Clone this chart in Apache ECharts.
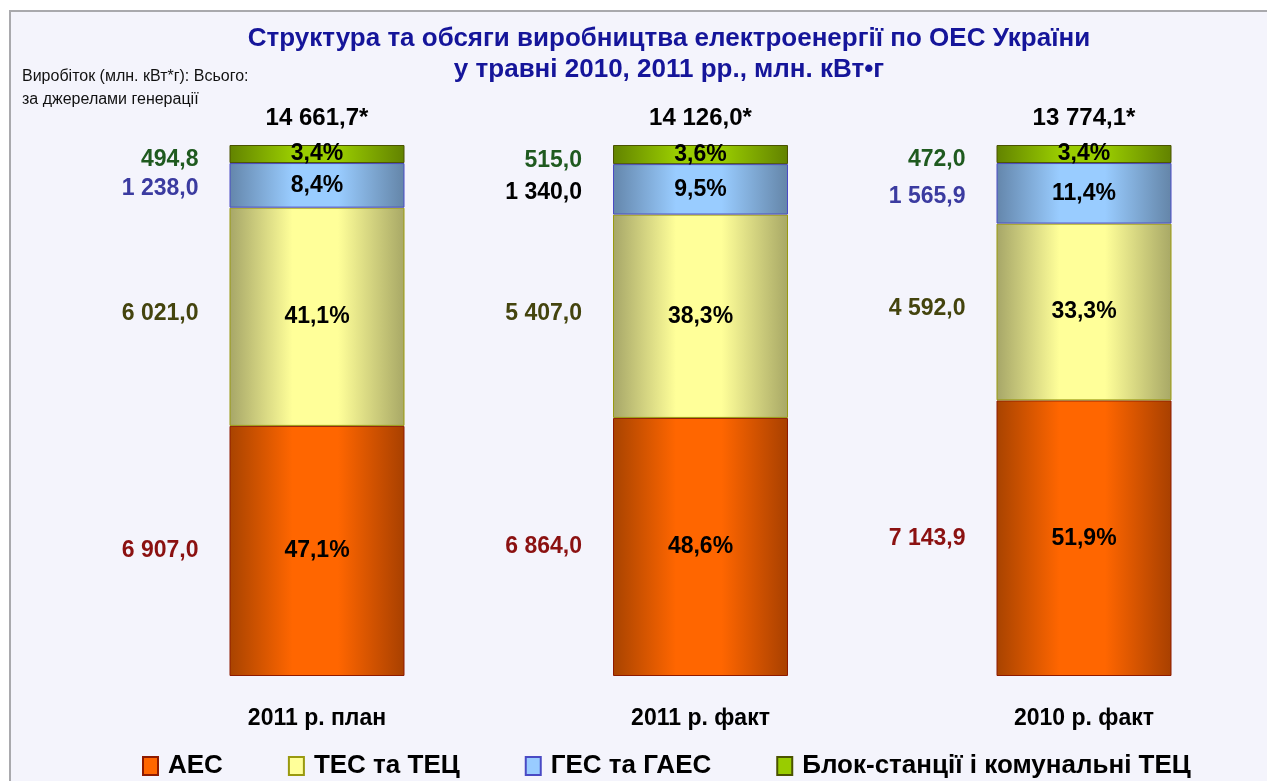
<!DOCTYPE html>
<html>
<head>
<meta charset="utf-8">
<script src="https://cdn.jsdelivr.net/npm/echarts@6/dist/echarts.min.js"></script>
<style>
  body { margin: 0; background: #fff; }
  #frame {
    position: absolute; left: 9px; top: 10px; width: 1270px; height: 780px;
    border: 2px solid #a9a9ad; background: #f4f4fc;
  }
  #chart { position: absolute; left: 0; top: 0; width: 1267px; height: 781px; }
</style>
</head>
<body>
<div id="frame"></div>
<div id="chart"></div>
<script>
  var categories = ['2011 р. план', '2011 р. факт', '2010 р. факт']
  var seriesNames = ['АЕС', 'ТЕС та ТЕЦ', 'ГЕС та ГАЕС', 'Блок-станції і комунальні ТЕЦ']

  // млн. кВт*г
  var aesValues = [6907.0, 6864.0, 7143.9]
  var tesValues = [6021.0, 5407.0, 4592.0]
  var gesValues = [1238.0, 1340.0, 1565.9]
  var blockValues = [494.8, 515.0, 472.0]
  var totals = [14661.7, 14126.0, 13774.1]

  // частка, %
  var aesPct = [47.1, 48.6, 51.9]
  var tesPct = [41.1, 38.3, 33.3]
  var gesPct = [8.4, 9.5, 11.4]
  var blockPct = [3.4, 3.6, 3.4]

  var font = '"Liberation Sans", Arial, sans-serif'

  function fmt(v) {
    var s = v.toFixed(1).split('.')
    var int = s[0].replace(/\B(?=(\d{3})+(?!\d))/g, ' ')
    return int + ',' + s[1]
  }

  function grad(dark, light, dark2) {
    return {
      type: 'linear', x: 0, y: 0, x2: 1, y2: 0,
      colorStops: [
        { offset: 0, color: dark },
        { offset: 0.36, color: light },
        { offset: 0.62, color: light },
        { offset: 1, color: dark2 }
      ]
    }
  }

  var styles = [
    { fill: grad('#a84300', '#ff6600', '#a84000'), border: '#8e1a00', flat: '#ff6600', text: '#8b1111', dy: 0 },
    { fill: grad('#a6a668', '#ffff99', '#a8a866'), border: '#99990f', flat: '#ffff99', text: '#44440e', dy: -3 },
    { fill: grad('#6486ab', '#99ccff', '#6485a8'), border: '#4a4ac4', flat: '#99ccff', text: '#3b3ba0', dy: 3 },
    { fill: grad('#628300', '#99cc00', '#628200'), border: '#4a5200', flat: '#99cc00', text: '#1f5a1f', dy: 6 }
  ]
  var pctData = [aesPct, tesPct, gesPct, blockPct]
  var absData = [aesValues, tesValues, gesValues, blockValues]

  var series = []
  // сегменти з відсотками
  seriesNames.forEach(function (name, i) {
    series.push({
      name: name,
      type: 'bar',
      stack: 'pct',
      barWidth: 175,
      barGap: '-100%',
      clip: false,
      data: pctData[i],
      itemStyle: { color: styles[i].fill, borderColor: styles[i].border, borderWidth: 1 },
      label: {
        show: true,
        position: 'inside',
        color: '#000',
        fontFamily: font,
        fontWeight: 'bold',
        fontSize: 23,
        formatter: function (p) { return p.value.toFixed(1).replace('.', ',') + '%' }
      }
    })
  })
  // абсолютні значення зліва від стовпчиків
  seriesNames.forEach(function (name, i) {
    series.push({
      name: name + ' ',
      type: 'bar',
      stack: 'abs',
      barWidth: 175,
      barGap: '-100%',
      clip: false,
      silent: true,
      data: pctData[i].map(function (v, j) {
        var item = { value: v }
        if (i === 2 && j === 1) item.label = { color: '#000' }
        return item
      }),
      itemStyle: { color: 'rgba(0,0,0,0)' },
      label: {
        show: true,
        position: 'left',
        distance: 31,
        offset: [0, styles[i].dy],
        color: styles[i].text,
        fontFamily: font,
        fontWeight: 'bold',
        fontSize: 23,
        formatter: function (p) { return fmt(absData[i][p.dataIndex]) }
      }
    })
  })
  // всього
  series.push({
    name: 'total',
    type: 'bar',
    stack: 'tot',
    barWidth: 175,
    barGap: '-100%',
    clip: false,
    silent: true,
    data: totals.map(function () { return 100 }),
    itemStyle: { color: 'rgba(0,0,0,0)' },
    label: {
      show: true,
      position: 'top',
      distance: 15,
      color: '#000',
      fontFamily: font,
      fontWeight: 'bold',
      fontSize: 24,
      formatter: function (p) { return fmt(totals[p.dataIndex]) + '*' }
    }
  })

  var myChart = echarts.init(document.getElementById('chart'))
  myChart.setOption({
    animation: false,
    title: [
      {
        text: 'Структура та обсяги виробництва електроенергії по ОЕС України\nу травні 2010, 2011 рр., млн. кВт•г',
        left: 664,
        top: 18,
        textAlign: 'center',
        textStyle: {
          color: '#15159a',
          fontFamily: font,
          fontWeight: 'bold',
          fontSize: 26,
          lineHeight: 31,
          align: 'center'
        }
      },
      {
        text: 'Виробіток (млн. кВт*г): Всього:\nза джерелами генерації',
        left: 17,
        top: 60,
        textStyle: {
          color: '#111',
          fontFamily: font,
          fontWeight: 'normal',
          fontSize: 16,
          lineHeight: 23
        }
      }
    ],
    legend: {
      left: 137,
      top: 748,
      itemWidth: 15,
      itemHeight: 18,
      itemGap: 65,
      icon: 'rect',
      textStyle: { color: '#000', fontFamily: font, fontWeight: 'bold', fontSize: 26, padding: [0, 0, 0, 5] },
      data: seriesNames.map(function (n, i) {
        return { name: n, itemStyle: { color: styles[i].flat, borderColor: styles[i].border, borderWidth: 2 } }
      })
    },
    grid: {
      left: 317,
      top: 145,
      width: 767,
      height: 531
    },
    xAxis: {
      type: 'category',
      data: categories,
      boundaryGap: false,
      axisLine: { show: false },
      axisTick: { show: false },
      axisLabel: {
        margin: 31,
        color: '#000',
        fontFamily: font,
        fontWeight: 'bold',
        fontSize: 23
      }
    },
    yAxis: {
      type: 'value',
      min: 0,
      max: 100,
      show: false,
      splitLine: { show: false }
    },
    series: series
  })
</script>
</body>
</html>
